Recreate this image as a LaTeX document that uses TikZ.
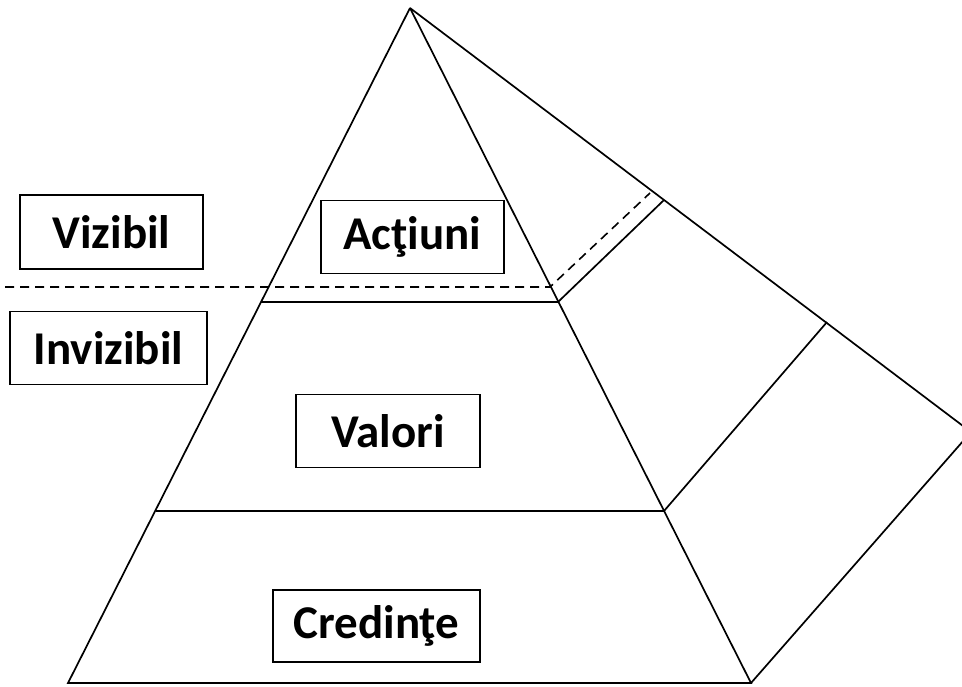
\documentclass[tikz,border=0pt]{standalone}
\usepackage{fontspec}
\setmainfont{Carlito}
\usepackage{tikz}

\tikzset{
    layerbox/.style={draw, rectangle, line width=1.6pt, inner sep=0pt, font=\fontsize{47}{54}\selectfont\bfseries},
    edge/.style={line width=1.7pt},
    border/.style={line width=1.6pt, dashed, dash pattern=on 9pt off 6pt}
}

\begin{document}
\begin{tikzpicture}[x=1pt, y=-1pt]
    \useasboundingbox (0,0) rectangle (962,686);
    \clip (0,0) rectangle (962,686);
    % pyramid corners
    \coordinate (apex) at (410,8);
    \coordinate (baseleft) at (68,683);
    \coordinate (baseright) at (751,683);
    \coordinate (back) at (971,432);
    % layer corners
    \coordinate (topleft) at (261,302);
    \coordinate (topright) at (558,302);
    \coordinate (midleft) at (156,511);
    \coordinate (midright) at (664,511);
    \coordinate (topback) at (664,200);
    \coordinate (midback) at (827,322);
    % visible border
    \coordinate (borderstart) at (5,287);
    \coordinate (borderfront) at (550,287);
    \coordinate (borderback) at (650,193);

    \draw[edge] (apex) -- (baseleft) -- (baseright) -- (apex);
    \draw[edge] (apex) -- (back) -- (baseright);
    \draw[edge] (topleft) -- (topright) -- (topback);
    \draw[edge] (midleft) -- (midright) -- (midback);
    \draw[border] (borderstart) -- (borderfront) -- (borderback);

    \node[layerbox, minimum width=183pt, minimum height=74pt] (vizibil) at (111.5,232) {Vizibil};
    \node[layerbox, minimum width=197pt, minimum height=73pt] (invizibil) at (108.5,348) {Invizibil};
    \node[layerbox, minimum width=183pt, minimum height=73pt] (actiuni) at (412.5,237) {Acţiuni};
    \node[layerbox, minimum width=184pt, minimum height=73pt] (valori) at (388,431) {Valori};
    \node[layerbox, minimum width=207pt, minimum height=72pt] (credinte) at (376.5,626) {Credinţe};
\end{tikzpicture}
\end{document}
